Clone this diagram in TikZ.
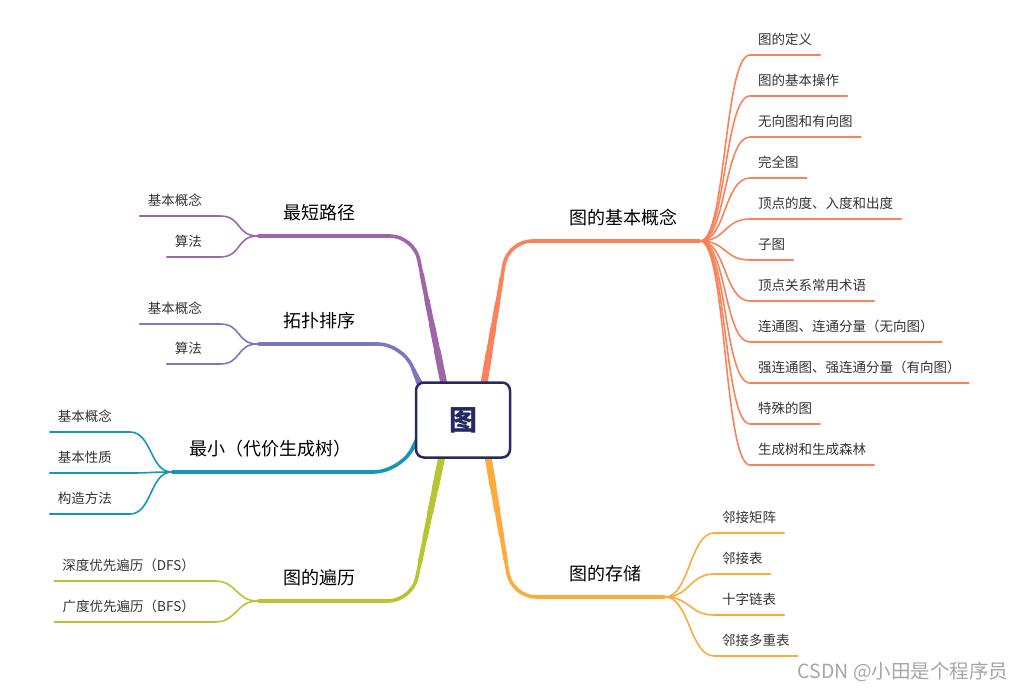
\documentclass[tikz,border=0pt]{standalone}
\usepackage{fontspec}
\setmainfont{Noto Sans CJK SC}
\usetikzlibrary{backgrounds,calc,positioning}
\definecolor{Navy}{HTML}{262A62}
\definecolor{LeafInk}{HTML}{333333}
\definecolor{Coral}{HTML}{F9825A}
\definecolor{Amber}{HTML}{FDAB3C}
\definecolor{Plum}{HTML}{9E65A8}
\definecolor{Iris}{HTML}{7A77BE}
\definecolor{Ocean}{HTML}{1497B7}
\definecolor{Lime}{HTML}{B6C530}
\tikzset{
  leaf/.style={font=\fontsize{13.5}{16}\selectfont, text=LeafInk,
    inner xsep=8pt, inner ysep=7pt, text height=10pt, text depth=3pt},
  twig/.style={line width=1.6pt, line cap=round},
  limb/.style={line width=3.6pt, rounded corners=24pt},
  stem/.style={line cap=round},
  branchlab/.style={font=\fontsize{18}{21}\selectfont, anchor=south,
    inner xsep=0pt, inner ysep=12pt, text height=13pt, text depth=4pt}
}
% one main branch: colour, start, corner, hub
\newcommand{\drawlimb}[4]{%
  \draw[limb,#1] (#2) -- (#3) -- (#4);
  \coordinate (bend) at ($(#3)!26pt!(#2)$);
  \foreach \w/\f in {4.4/0.9,5.2/0.7,6/0.5,6.8/0.3}
    \draw[stem,#1,line width=\w pt] (#2) -- ($(#2)!\f!(bend)$);%
}

\begin{document}
\begin{tikzpicture}[x=1pt,y=-1pt]
  \useasboundingbox (0,0) rectangle (1024,692);

  \node[
    fill=white,
    draw=Navy,
    line width=2.5pt,
    rounded corners=8pt,
    minimum width=94pt,
    minimum height=75pt,
    text=Navy,
    font=\fontsize{28}{32}\selectfont\bfseries
  ] (tu) at (463,420) {图};

  % branch labels
  \node[branchlab, minimum width=154pt] (jbgn) at (623,241) {图的基本概念};
  \node[branchlab, minimum width=120pt] (cc) at (605,597) {图的存储};
  \node[branchlab, minimum width=122pt] (zdlj) at (319,236) {最短路径};
  \node[branchlab, minimum width=122pt] (tppx) at (319,344) {拓扑排序};
  \node[branchlab, minimum width=196pt] (zxs) at (270,472) {最小（代价生成树）};
  \node[branchlab, minimum width=122pt] (bl) at (319,601) {图的遍历};

  \coordinate (s1) at ([xshift=20pt,yshift=-8pt]tu.north);
  \coordinate (s2) at ([xshift=24pt,yshift=8pt]tu.south);
  \coordinate (s3) at ([xshift=-18pt,yshift=-8pt]tu.north);
  \coordinate (s4) at ([xshift=-39pt,yshift=-12pt]tu.north);
  \coordinate (s5) at ([xshift=8pt,yshift=-12pt]tu.west);
  \coordinate (s6) at ([xshift=-20pt,yshift=8pt]tu.south);

  \begin{scope}[on background layer]
    \drawlimb{Coral}{s1}{508,241}{jbgn.south east}
    \drawlimb{Amber}{s2}{512,597}{cc.south east}
    \drawlimb{Plum}{s3}{414,236}{zdlj.south west}
    \drawlimb{Iris}{s4}{402,344}{tppx.south west}
    \drawlimb{Ocean}{s5}{398,472}{zxs.south west}
    \drawlimb{Lime}{s6}{412,601}{bl.south west}
  \end{scope}

  % right side leaves
  \foreach \txt [count=\i] in {图的定义,图的基本操作,无向图和有向图,完全图,
      顶点的度、入度和出度,子图,顶点关系常用术语,连通图、连通分量（无向图）,
      强连通图、强连通分量（有向图）,特殊的图,生成树和生成森林} {
    \node[leaf, anchor=south west] (gn\i) at (750,{14+41*\i}) {\txt};
    \draw[twig,Coral] (jbgn.south east) .. controls +(26,0) and +(-26,0)
      .. (gn\i.south west) -- (gn\i.south east);
  }
  \foreach \txt [count=\i] in {邻接矩阵,邻接表,十字链表,邻接多重表} {
    \node[leaf, anchor=south west] (cc\i) at (714,{492+41*\i}) {\txt};
    \draw[twig,Amber] (cc.south east) .. controls +(24,0) and +(-24,0)
      .. (cc\i.south west) -- (cc\i.south east);
  }

  % left side leaves
  \foreach \txt/\yy [count=\i] in {基本概念/216,算法/257} {
    \node[leaf, anchor=south east] (zd\i) at (210,\yy) {\txt};
    \draw[twig,Plum] (zdlj.south west) .. controls +(-22,0) and +(22,0)
      .. ([xshift=10pt]zd\i.south east) -- (zd\i.south west);
  }
  \foreach \txt/\yy [count=\i] in {基本概念/324,算法/364} {
    \node[leaf, anchor=south east] (tp\i) at (210,\yy) {\txt};
    \draw[twig,Iris] (tppx.south west) .. controls +(-22,0) and +(22,0)
      .. ([xshift=10pt]tp\i.south east) -- (tp\i.south west);
  }
  \foreach \txt/\yy [count=\i] in {基本概念/432,基本性质/473,构造方法/514} {
    \node[leaf, anchor=south east] (zx\i) at (120,\yy) {\txt};
    \draw[twig,Ocean] (zxs.south west) .. controls +(-22,0) and +(22,0)
      .. ([xshift=10pt]zx\i.south east) -- (zx\i.south west);
  }
  \foreach \txt/\yy [count=\i] in {深度优先遍历（DFS）/581,广度优先遍历（BFS）/622} {
    \node[leaf, anchor=south east] (bl\i) at (203,\yy) {\txt};
    \draw[twig,Lime] (bl.south west) .. controls +(-22,0) and +(22,0)
      .. ([xshift=12pt]bl\i.south east) -- (bl\i.south west);
  }

  \node[text=black!35, font=\fontsize{19.5}{22}\selectfont] (wm) at (903,672) {CSDN @小田是个程序员};
\end{tikzpicture}
\end{document}
